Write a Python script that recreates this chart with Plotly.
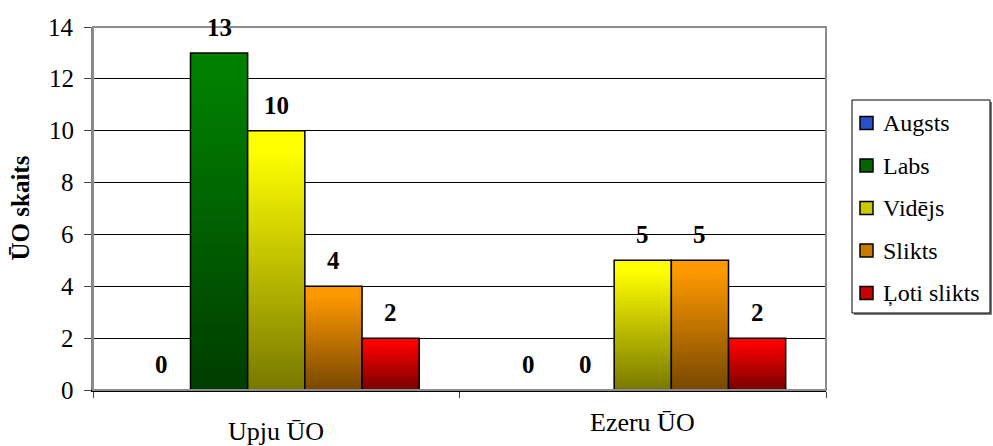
import plotly.graph_objects as go

# Water body status counts
categories = ["Upju ŪO", "Ezeru ŪO"]
series = ["Augsts", "Labs", "Vidējs", "Slikts", "Ļoti slikts"]
values = {
    "Augsts": [0, 0],
    "Labs": [13, 0],
    "Vidējs": [10, 5],
    "Slikts": [4, 5],
    "Ļoti slikts": [2, 2],
}
y_ticks = [0, 2, 4, 6, 8, 10, 12, 14]
y_title = "ŪO skaits"

# top colour of each series' gradient (fades to a darker shade at the base)
top_colors = {
    "Augsts": (51, 102, 255),
    "Labs": (0, 128, 0),
    "Vidējs": (255, 255, 0),
    "Slikts": (255, 153, 0),
    "Ļoti slikts": (255, 0, 0),
}

FONT = "serif"
W, H = 993, 446
M_L, M_R, M_T, M_B = 93, 167, 27, 56
PW, PH = W - M_L - M_R, H - M_T - M_B
N_STEPS = 60
BAR_W = 0.78 / len(series)
DARK = 0.47


def shade(rgb, t):
    f = DARK + (1 - DARK) * min(1.0, t / 0.92)
    return "rgb({},{},{})".format(*[int(round(c * f)) for c in rgb])


def px_x(px):
    # page pixel -> paper x
    return (px - M_L) / PW


def px_y(py):
    # page pixel -> paper y
    return (H - M_B - py) / PH


fig = go.Figure()
annotations = []
shapes = []

for s, name in enumerate(series):
    rgb = top_colors[name]
    xs, bases, hs, cols = [], [], [], []
    ox, oy = [], []
    for g, v in enumerate(values[name]):
        xpos = g + (s - (len(series) - 1) / 2) * BAR_W
        if v > 0:
            # each step runs from its own base up to the bar top, so the
            # lighter steps are laid over the darker ones without seams
            for i in range(N_STEPS):
                b = v * i / N_STEPS
                xs.append(xpos)
                bases.append(b)
                hs.append(v - b)
                cols.append(shade(rgb, (i + 0.5) / N_STEPS))
            ox.append(xpos)
            oy.append(v)
        annotations.append(dict(
            x=xpos, y=v, xref="x", yref="y", text="<b>%d</b>" % v,
            showarrow=False, yanchor="bottom", yshift=10,
            font=dict(family=FONT, size=25, color="black"),
        ))
    # gradient body
    fig.add_trace(go.Bar(
        x=xs, y=hs, base=bases, width=BAR_W,
        marker=dict(color=cols, line=dict(width=0)),
        showlegend=False, hoverinfo="skip",
    ))
    # outline
    fig.add_trace(go.Bar(
        x=ox, y=oy, width=BAR_W, name=name,
        marker=dict(color="rgba(0,0,0,0)", line=dict(color="black", width=1.5)),
        showlegend=False,
    ))

# category labels under each group
for g, cat in enumerate(categories):
    annotations.append(dict(
        x=g, y=0, xref="x", yref="paper", text=cat, showarrow=False,
        yanchor="middle", yshift=-41 if g == 0 else -32,
        font=dict(family=FONT, size=26, color="black"),
    ))

# y tick labels
for t in y_ticks:
    annotations.append(dict(
        x=0, y=t, xref="paper", yref="y", text=str(t), showarrow=False,
        xanchor="right", yanchor="middle", xshift=-17,
        font=dict(family=FONT, size=25, color="black"),
    ))

# y axis title
annotations.append(dict(
    x=px_x(20), y=0.5, xref="paper", yref="paper", text="<b>%s</b>" % y_title,
    showarrow=False, textangle=-90, xanchor="center", yanchor="middle",
    font=dict(family=FONT, size=25, color="black"),
))

# legend box with drop shadow
LG_L, LG_R, LG_T, LG_B = 852, 990, 100, 313
shapes.append(dict(type="rect", xref="paper", yref="paper",
                   x0=px_x(LG_L + 2), x1=px_x(LG_R + 2),
                   y0=px_y(LG_B + 2), y1=px_y(LG_T + 2),
                   fillcolor="#7f7f7f", line=dict(width=0)))
shapes.append(dict(type="rect", xref="paper", yref="paper",
                   x0=px_x(LG_L), x1=px_x(LG_R), y0=px_y(LG_B), y1=px_y(LG_T),
                   fillcolor="white", line=dict(color="black", width=1)))
ITEM_Y0, ITEM_DY, SW = 123, 42.5, 13
for k, name in enumerate(series):
    cy = ITEM_Y0 + k * ITEM_DY
    rgb = top_colors[name]
    shapes.append(dict(type="rect", xref="paper", yref="paper",
                       x0=px_x(860), x1=px_x(860 + SW),
                       y0=px_y(cy + SW / 2), y1=px_y(cy - SW / 2),
                       fillcolor=shade(rgb, 0.55),
                       line=dict(color="black", width=1.5)))
    annotations.append(dict(
        x=px_x(881), y=px_y(cy), xref="paper", yref="paper", text=name,
        showarrow=False, xanchor="left", yanchor="middle",
        font=dict(family=FONT, size=24, color="black"),
    ))

# plot-area frame
shapes.append(dict(
    type="rect", xref="x domain", yref="y domain",
    x0=0, x1=1, y0=0, y1=1, layer="above",
    line=dict(color="#8c8c8c", width=2),
))

fig.update_layout(
    width=W, height=H,
    margin=dict(l=M_L, r=M_R, t=M_T, b=M_B, autoexpand=False),
    paper_bgcolor="white", plot_bgcolor="white",
    barmode="overlay", showlegend=False,
    font=dict(family=FONT, size=24, color="black"),
    xaxis=dict(
        range=[-0.5, len(categories) - 0.5],
        tickvals=[-0.5, 0.5, 1.5], showticklabels=False,
        ticks="outside", ticklen=6, tickcolor="#404040",
        showgrid=False, zeroline=False,
        showline=True, linecolor="black", linewidth=1.5,
    ),
    yaxis=dict(
        range=[0, 14], tickvals=y_ticks, showticklabels=False,
        ticks="outside", ticklen=7, tickcolor="#404040",
        showgrid=True, gridcolor="black", gridwidth=1,
        zeroline=False,
        showline=True, linecolor="#808080", linewidth=1.5,
    ),
    annotations=annotations,
    shapes=shapes,
)

fig.write_html("out.html")
